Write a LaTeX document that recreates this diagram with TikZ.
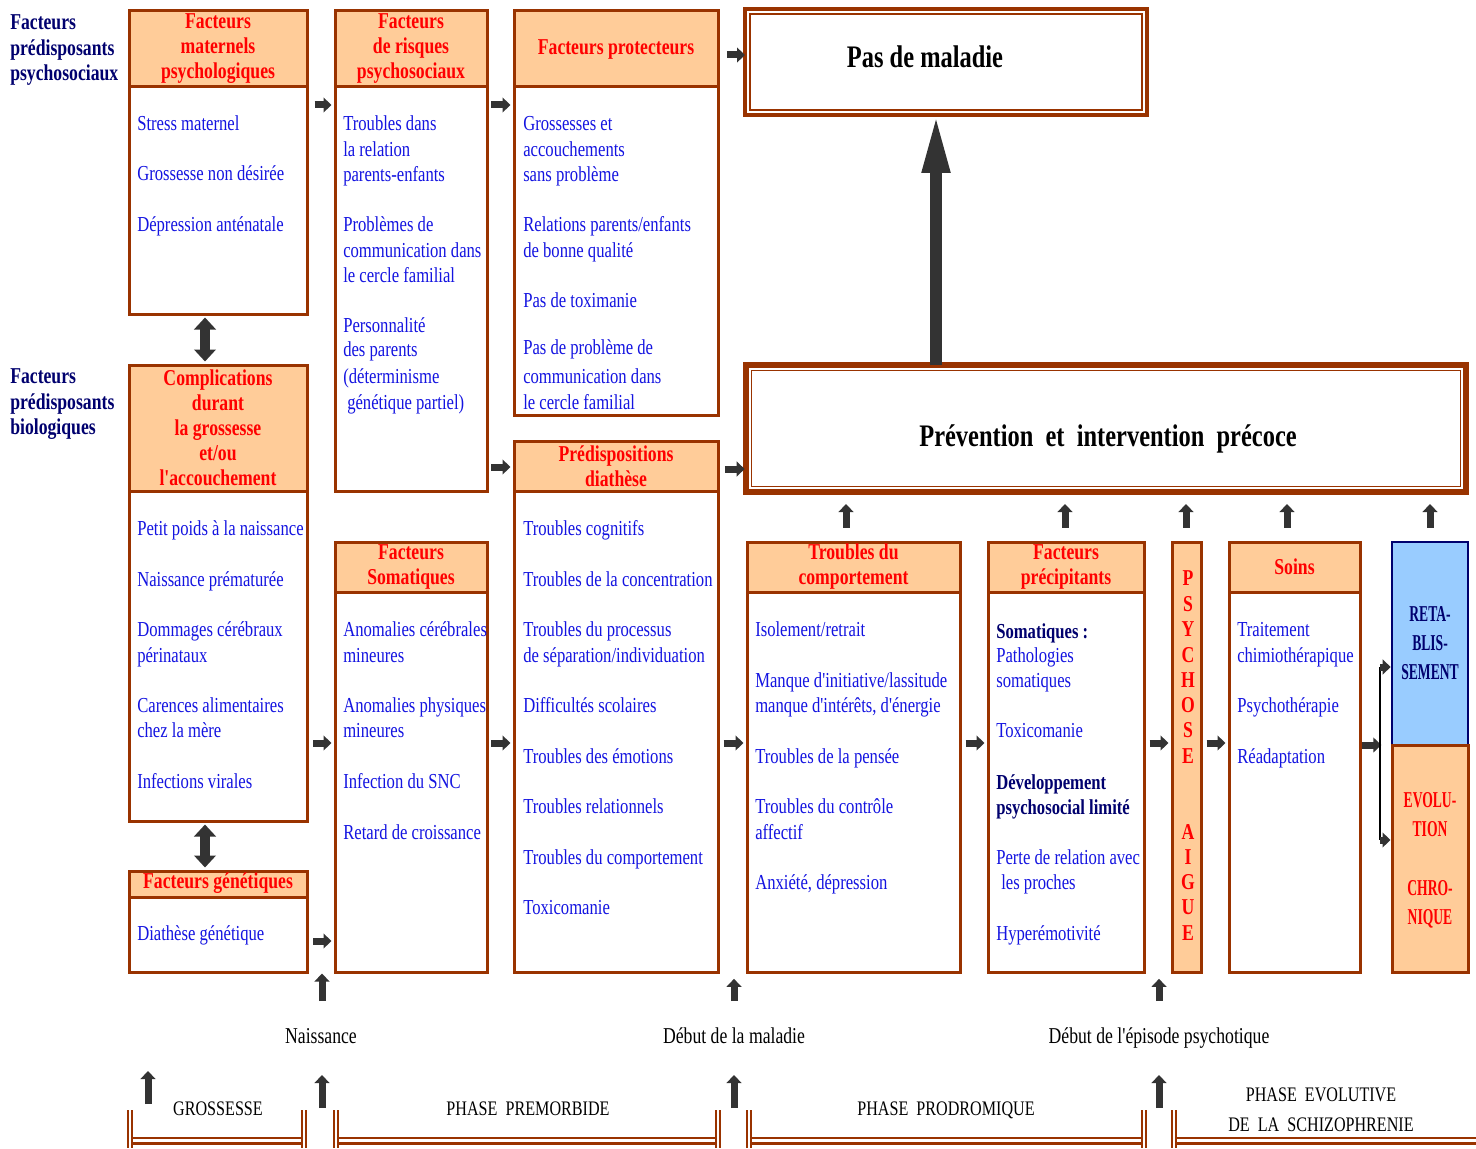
\documentclass[tikz,border=0pt]{standalone}
\usepackage{fontspec}
\setmainfont{Liberation Serif}[FakeStretch=0.78]
\newfontfamily\qfont{Liberation Serif}[FakeStretch=0.78]
\newfontfamily\narrowfont{Liberation Serif}[FakeStretch=0.6]
\newcommand\apo{{\qfont\symbol{39}}}
\usetikzlibrary{arrows.meta,fit}
\definecolor{brn}{RGB}{153,51,0}
\definecolor{peach}{RGB}{255,204,153}
\definecolor{blu}{RGB}{20,20,225}
\definecolor{nav}{RGB}{0,0,110}
\definecolor{dg}{RGB}{51,51,51}
\definecolor{lblue}{RGB}{153,204,255}
\definecolor{rd}{RGB}{255,0,0}
\begin{document}
\begin{tikzpicture}[x=0.75pt,y=-0.75pt,
  box/.style={draw=brn, line width=2.25pt, inner sep=0pt, fill=white},
  hd/.style={box, fill=peach},
  ht/.style={text=rd, font=\fontsize{17}{18.75}\selectfont\bfseries, align=center, inner sep=0pt},
  it/.style={text=blu, font=\fontsize{16}{19}\selectfont, anchor=mid west, inner sep=0pt, yshift=-3pt},
  itn/.style={it, text=nav, font=\fontsize{16}{19}\selectfont\bfseries},
  lab/.style={text=nav, font=\fontsize{17}{19}\selectfont\bfseries, anchor=mid west, inner sep=0pt, yshift=-3pt},
  ar/.style={draw=dg, line width=5.25pt, -{Triangle[width=11pt,length=6pt]}},
  dar/.style={draw=dg, line width=8pt, {Triangle[width=16pt,length=9pt]}-{Triangle[width=16pt,length=9pt]}},
  bigar/.style={draw=dg, line width=9pt, -{Triangle[width=19pt,length=45pt]}},
  bt/.style={font=\fontsize{17}{19}\selectfont, inner sep=0pt, anchor=mid, yshift=-3pt},
  bc/.style={font=\fontsize{15.5}{19}\selectfont, inner sep=0pt, anchor=mid, yshift=-3pt},
  vl/.style={text=rd, font=\fontsize{17}{19}\selectfont\bfseries, inner sep=0pt, anchor=mid, yshift=-3pt},
  nl/.style={vl, font=\fontsize{17}{19}\selectfont\narrowfont\bfseries},
]
\useasboundingbox (0,0) rectangle (1476,1148);

% left labels
\node[lab] (l1) at (10,22) {Facteurs};
\node[lab] (l2) at (10,48) {prédisposants};
\node[lab] (l3) at (10,73) {psychosociaux};
\node[lab] (l4) at (10,376) {Facteurs};
\node[lab] (l5) at (10,402) {prédisposants};
\node[lab] (l6) at (10,427) {biologiques};

% column 1
\node[box, fit={(129,11)(307,314)}] (A) {};
\node[hd, fit={(129,11)(307,87)}] (Ah) {};
\node[ht] (Aht) at (Ah.center) {Facteurs\\maternels\\psychologiques};
\foreach \y/\t in {123/Stress maternel,173/Grossesse non désirée,224/Dépression anténatale}
  \node[it] (A-\y) at (137,\y) {\t};

\node[box, fit={(129,365)(307,821)}] (B) {};
\node[hd, fit={(129,365)(307,491)}] (Bh) {};
\node[ht] (Bht) at (Bh.center) {Complications\\durant\\la grossesse\\et/ou\\l\apo accouchement};
\foreach \y/\t in {528/Petit poids à la naissance,579/Naissance prématurée,629/Dommages cérébraux,655/périnataux,705/Carences alimentaires,730/chez la mère,781/Infections virales}
  \node[it] (B-\y) at (137,\y) {\t};

\node[box, fit={(129,871)(307,972)}] (C) {};
\node[hd, fit={(129,871)(307,897)}] (Ch) {};
\node[ht] (Cht) at (218,883) {Facteurs génétiques};
\node[it] (C-1) at (137,933) {Diathèse génétique};

% column 2
\node[box, fit={(335,11)(487,491)}] (D) {};
\node[hd, fit={(335,11)(487,87)}] (Dh) {};
\node[ht] (Dht) at (Dh.center) {Facteurs\\de risques\\psychosociaux};
\foreach \y/\t in {123/Troubles dans,149/la relation,174/parents-enfants,224/Problèmes de,250/communication dans,275/le cercle familial,325/Personnalité,349/des parents,376/(déterminisme}
  \node[it] (D-\y) at (343,\y) {\t};
\node[it] (D-402) at (347,402) {génétique partiel)};

\node[box, fit={(335,542)(487,972)}] (E) {};
\node[hd, fit={(335,542)(487,592)}] (Eh) {};
\node[ht] (Eht) at (Eh.center) {Facteurs\\Somatiques};
\foreach \y/\t in {629/Anomalies cérébrales,655/mineures,705/Anomalies physiques,730/mineures,781/Infection du SNC,832/Retard de croissance}
  \node[it] (E-\y) at (343,\y) {\t};

% column 3
\node[box, fit={(514,11)(718,415)}] (F) {};
\node[hd, fit={(514,11)(718,87)}] (Fh) {};
\node[ht] (Fht) at (Fh.center) {Facteurs protecteurs};
\foreach \y/\t in {123/Grossesses et,149/accouchements,174/sans problème,224/{Relations parents/enfants},250/de bonne qualité,300/Pas de toximanie,347/Pas de problème de,376/communication dans,402/le cercle familial}
  \node[it] (F-\y) at (523,\y) {\t};

\node[box, fit={(514,441)(718,972)}] (G) {};
\node[hd, fit={(514,441)(718,491)}] (Gh) {};
\node[ht] (Ght) at (Gh.center) {Prédispositions\\diathèse};
\foreach \y/\t in {528/Troubles cognitifs,579/Troubles de la concentration,629/Troubles du processus,655/{de séparation/individuation},705/Difficultés scolaires,756/Troubles des émotions,806/Troubles relationnels,857/Troubles du comportement,907/Toxicomanie}
  \node[it] (G-\y) at (523,\y) {\t};

% column 4
\node[box, fit={(747,542)(960,972)}] (TC) {};
\node[hd, fit={(747,542)(960,592)}] (TCh) {};
\node[ht] (TCht) at (TCh.center) {Troubles du\\comportement};
\foreach \y/\t in {629/{Isolement/retrait},680/{Manque d\apo initiative/lassitude},705/{manque d\apo intérêts, d\apo énergie},756/Troubles de la pensée,806/Troubles du contrôle,832/affectif,882/{Anxiété, dépression}}
  \node[it] (TC-\y) at (755,\y) {\t};

% column 5
\node[box, fit={(988,542)(1144,972)}] (FP) {};
\node[hd, fit={(988,542)(1144,592)}] (FPh) {};
\node[ht] (FPht) at (FPh.center) {Facteurs\\précipitants};
\node[itn] (FP-631) at (996,631) {Somatiques :};
\foreach \y/\t in {655/Pathologies,680/somatiques,730/Toxicomanie,857/Perte de relation avec,933/Hyperémotivité}
  \node[it] (FP-\y) at (996,\y) {\t};
\node[it] (FP-882) at (1001,882) {les proches};
\node[itn] (FP-782) at (996,782) {Développement};
\node[itn] (FP-807) at (996,807) {psychosocial limité};

% column 6 : psychose aigue
\node[hd, fit={(1172,542)(1201,972)}] (PA) {};
\foreach \y/\l in {578/P,604/S,629/Y,655/C,680/H,705/O,730/S,756/E,832/A,857/I,882/G,907/U,933/E}
  \node[vl] (PA-\y) at (1188,\y) {\l};

% column 7 : soins
\node[box, fit={(1229,542)(1360,972)}] (S) {};
\node[hd, fit={(1229,542)(1360,592)}] (Sh) {};
\node[ht] (Sht) at (Sh.center) {Soins};
\foreach \y/\t in {629/Traitement,655/chimiothérapique,705/Psychothérapie,756/Réadaptation}
  \node[it] (S-\y) at (1237,\y) {\t};

% column 8
\node[draw=nav, fill=lblue, line width=2pt, inner sep=0pt, fit={(1392,542)(1468,745)}] (RB) {};
\node[hd, fit={(1392,745)(1468,972)}] (EC) {};
\foreach \y/\t in {614/RETA-,643/BLIS-,672/SEMENT}
  \node[nl, text=nav] (RB-\y) at (1430,\y) {\t};
\foreach \y/\t in {800/EVOLU-,829/TION,888/CHRO-,917/NIQUE}
  \node[nl] (EC-\y) at (1430,\y) {\t};

% Pas de maladie
\node[draw=brn, line width=2.6pt, outer sep=0pt, inner sep=0pt, fit={(745,9)(1147,115)}] (PdM) {};
\draw[brn, line width=1.3pt] ([shift={(4pt,-4pt)}]PdM.north west) rectangle ([shift={(-4pt,4pt)}]PdM.south east);
\node[font=\fontsize{23.5}{26}\selectfont\bfseries, inner sep=0pt] (PdMt) at (925,57) {Pas de maladie};

% Prevention
\node[draw=brn, line width=4pt, outer sep=0pt, inner sep=0pt, fit={(746,365)(1466,492)}] (Prev) {};
\draw[brn, line width=1.3pt] ([shift={(4.2pt,-4.2pt)}]Prev.north west) rectangle ([shift={(-4.2pt,4.2pt)}]Prev.south east);
\node[font=\fontsize{23.5}{26}\selectfont\bfseries, inner sep=0pt] (Prevt) at (1108,439) {Prévention\ \ et\ \ intervention\ \ précoce};

% big arrow
\coordinate (bx) at (936,0);
\draw[bigar, shorten >=-1.5pt] (Prev.north -| bx) -- (PdM.south -| bx);

% double arrows
\coordinate (dx) at (205,0);
\draw[dar, shorten <=1.5pt, shorten >=1.5pt] (A.south -| dx) -- (B.north -| dx);
\draw[dar, shorten <=1.5pt, shorten >=1.5pt] (B.south -| dx) -- (C.north -| dx);

% right arrows
\draw[ar, shorten <=4.5pt, shorten >=1.5pt] (A.east |- 0,105) -- (D.west |- 0,105);
\draw[ar, shorten <=2pt, shorten >=1.5pt] (D.east |- 0,105) -- (F.west |- 0,105);
\draw[ar, shorten <=5.5pt, shorten >=0pt] (F.east |- 0,55) -- (PdM.west |- 0,55);
\draw[ar, shorten <=2pt, shorten >=1.5pt] (D.east |- 0,467) -- (G.west |- 0,467);
\draw[ar, shorten <=4pt, shorten >=1pt] (G.east |- 0,469) -- (Prev.west |- 0,469);
\draw[ar, shorten <=3.5pt, shorten >=1.5pt] (B.east |- 0,743) -- (E.west |- 0,743);
\draw[ar, shorten <=2pt, shorten >=1.5pt] (E.east |- 0,743) -- (G.west |- 0,743);
\draw[ar, shorten <=3pt, shorten >=1.5pt] (G.east |- 0,743) -- (TC.west |- 0,743);
\draw[ar, shorten <=3.5pt, shorten >=1.5pt] (C.east |- 0,941) -- (E.west |- 0,941);
\draw[ar, shorten <=3pt, shorten >=1.5pt] (TC.east |- 0,743) -- (FP.west |- 0,743);
\draw[ar, shorten <=3pt, shorten >=1.5pt] (FP.east |- 0,743) -- (PA.west |- 0,743);
\draw[ar, shorten <=3pt, shorten >=1.5pt] (PA.east |- 0,743) -- (S.west |- 0,743);

% bracket to outcomes
\coordinate (bt) at (1380,667);
\coordinate (bb) at (1380,840);
\coordinate (bm) at (1380,745);
\draw[ar, shorten >=-1pt] (S.east |- bm) -- (bm);
\draw[black, line width=2pt] (bt) -- (bb);
\draw[ar] (bt) -- (RB.west |- bt);
\draw[ar] (bb) -- (EC.west |- bb);

% up arrows under prevention
\foreach \x/\n in {846/TC,1065/FP,1186/PA,1287/S,1430/RB}
  \draw[ar, shorten <=9.75pt, shorten >=9pt] (\n.north -| \x,0) -- (Prev.south -| \x,0);

% bottom labels
\node[bt] (nais) at (321,1036) {Naissance};
\node[bt] (debm) at (734,1036) {Début de la maladie};
\node[bt] (debe) at (1159,1036) {Début de l\apo épisode psychotique};
\node[bc] (gros) at (218,1108) {GROSSESSE};
\node[bc] (prem) at (528,1108) {PHASE~~PREMORBIDE};
\node[bc] (prod) at (946,1108) {PHASE~~PRODROMIQUE};
\node[bc] (evo1) at (1321,1094) {PHASE~~EVOLUTIVE};
\node[bc] (evo2) at (1321,1124) {DE~~LA~~SCHIZOPHRENIE};

% bottom arrows
\coordinate (ua) at (322,1001);
\coordinate (ub) at (734,1001);
\coordinate (uc) at (1159,1001);
\draw[ar] (ua) -- (E.south -| ua) ;
\draw[ar, shorten >=4pt] (ub) -- (G.south -| ub);
\draw[ar, shorten >=4pt] (uc) -- (FP.south -| uc);
\coordinate (la) at (148,1104);
\coordinate (lb) at (322,1108);
\coordinate (lc) at (734,1108);
\coordinate (ld) at (1159,1108);
\foreach \c in {la,lb,lc,ld}
  \draw[ar] (\c) -- ++(0,-33);

% bottom brackets
\foreach \a/\b in {128/306,334/720,747/1146}{
  \draw[brn, line width=1.1pt] (\a,1110) -- (\a,1148) ({\a+4},1110) -- ({\a+4},1148)
    (\b,1110) -- (\b,1148) ({\b-4},1110) -- ({\b-4},1148);
  \draw[brn, line width=1.1pt] ({\a+4},1138) -- ({\b-4},1138);
  \draw[brn, line width=2.2pt] ({\a+4},1143.5) -- ({\b-4},1143.5);
}
\draw[brn, line width=1.1pt] (1172,1110) -- (1172,1148) (1176,1110) -- (1176,1148);
\draw[brn, line width=1.1pt] (1176,1138) -- (1476,1138);
\draw[brn, line width=2.2pt] (1176,1143.5) -- (1476,1143.5);
\end{tikzpicture}
\end{document}
